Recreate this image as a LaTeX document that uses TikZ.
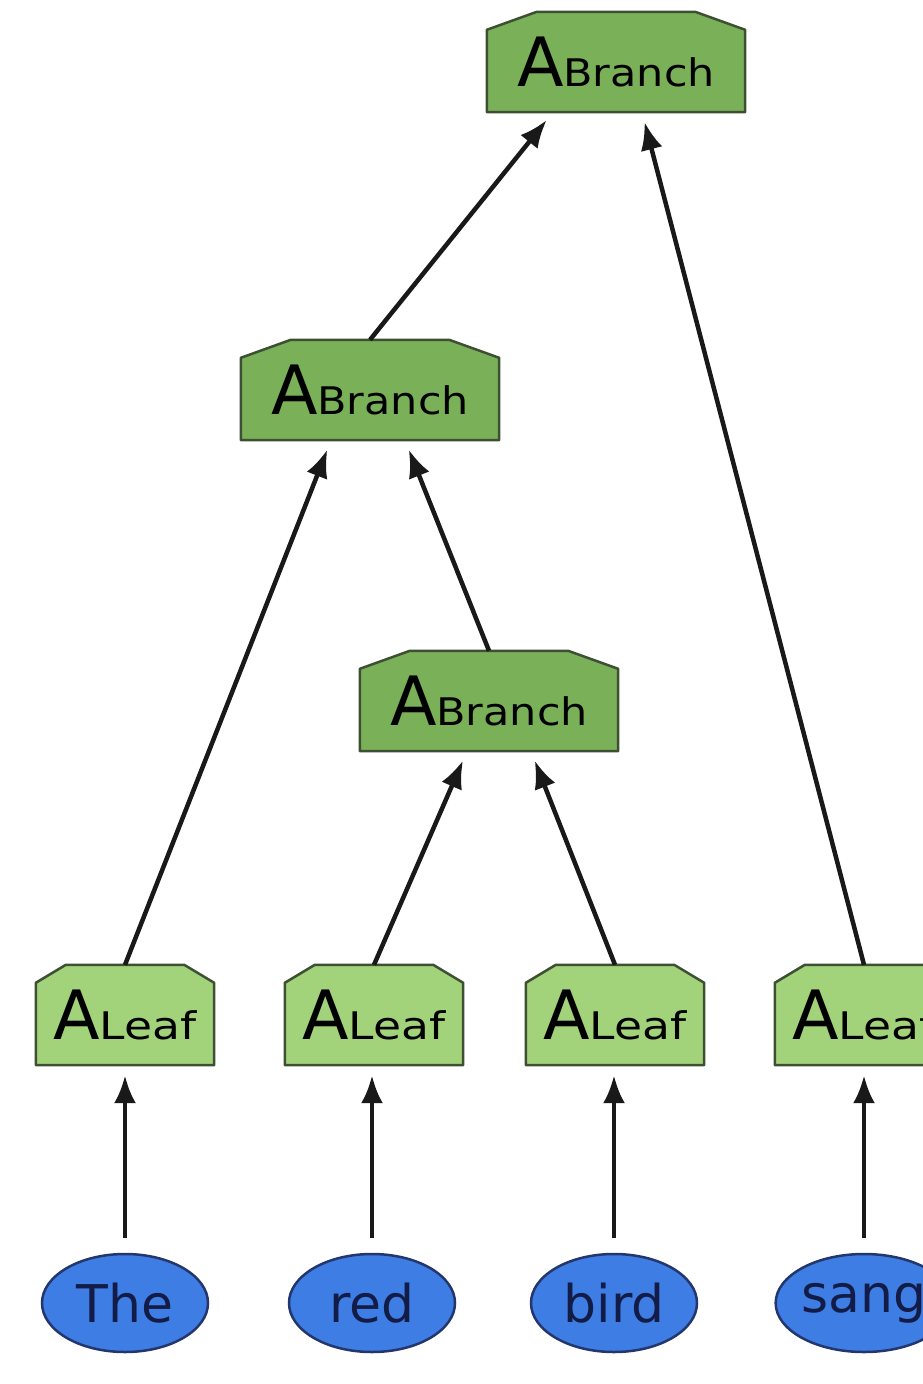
\documentclass[tikz,border=0pt]{standalone}
\usepackage{fontspec}
\setmainfont{DejaVu Sans}
\usepackage{graphicx}
\usetikzlibrary{shapes.geometric,arrows.meta,calc,backgrounds}

\definecolor{branchfill}{RGB}{122,176,88}
\definecolor{leaffill}{RGB}{162,210,122}
\definecolor{nodeline}{RGB}{62,80,52}
\definecolor{wordfill}{RGB}{62,125,228}
\definecolor{wordline}{RGB}{35,55,110}
\definecolor{wordtext}{RGB}{18,28,70}
\definecolor{edgecol}{RGB}{25,25,25}

\newcommand{\bigA}{{\fontsize{68}{68}\selectfont A}}
\newcommand{\branchlabel}{\bigA{\fontsize{38}{38}\selectfont\scalebox{1.13}[1]{Branch}}}
\newcommand{\leaflabel}{\bigA{\fontsize{38}{38}\selectfont\scalebox{1.2}[1]{Leaf}}}

% outline of a tag box with its two upper corners cut off
\newcommand{\tagoutline}[4]{% node, fill, chamfer x, chamfer y
  \path[draw=nodeline, line width=2.5pt, fill=#2, line join=round]
    (#1.south west) -- ($(#1.north west)+(0,#4)$) -- ($(#1.north west)+(#3,0)$)
    -- ($(#1.north east)+(-#3,0)$) -- ($(#1.north east)+(0,#4)$)
    -- (#1.south east) -- cycle;}

\begin{document}
\begin{tikzpicture}[x=1pt,y=-1pt,
  tagbox/.style={rectangle, inner sep=0pt, minimum height=100pt, text=black},
  branchbox/.style={tagbox, minimum width=258pt},
  leafbox/.style={tagbox, minimum width=178pt},
  wordbox/.style={ellipse, draw=wordline, line width=2.5pt, fill=wordfill,
    inner sep=0pt, minimum width=166pt, minimum height=98pt,
    font=\fontsize{52}{52}\selectfont, text=wordtext},
  edge/.style={draw=edgecol, line width=4.5pt,
    -{Latex[length=28pt,width=22pt]}, shorten >=10pt}
]
\useasboundingbox (0,0) rectangle (923,1384);
\clip (0,0) rectangle (923,1384);

% branch nodes
\node[branchbox] (top) at (616,62)  {\branchlabel};
\node[branchbox] (mid) at (370,390) {\branchlabel};
\node[branchbox] (low) at (489,701) {\branchlabel};

% leaf nodes
\node[leafbox] (l1) at (125,1015) {\leaflabel};
\node[leafbox] (l2) at (374,1015) {\leaflabel};
\node[leafbox] (l3) at (615,1015) {\leaflabel};
\node[leafbox] (l4) at (864,1015) {\leaflabel};

% box outlines behind the labels
\begin{scope}[on background layer]
  \foreach \n in {top,mid,low} {\tagoutline{\n}{branchfill}{50}{18}}
  \foreach \n in {l1,l2,l3,l4} {\tagoutline{\n}{leaffill}{30}{18}}
\end{scope}

% words
\node[wordbox] (w1) at (125,1303) {The};
\node[wordbox] (w2) at (372,1303) {red};
\node[wordbox] (w3) at (614,1303) {bird};
\node[wordbox] (w4) at (864,1303) {sang};

% words to leaves
\foreach \i in {1,2,3,4}
  \draw[edge, shorten <=15pt] (w\i.north) -- (w\i.north |- l\i.south);

% leaves and branches upward
\draw[edge] (l1.north) -- ([xshift=-39pt]mid.south);
\draw[edge] (l2.north) -- ([xshift=-22pt]low.south);
\draw[edge] (l3.north) -- ([xshift=42pt]low.south);
\draw[edge] (low.north) -- ([xshift=35pt]mid.south);
\draw[edge] (mid.north) -- ([xshift=-63pt]top.south);
\draw[edge] (l4.north) -- ([xshift=26pt]top.south);
\end{tikzpicture}
\end{document}
